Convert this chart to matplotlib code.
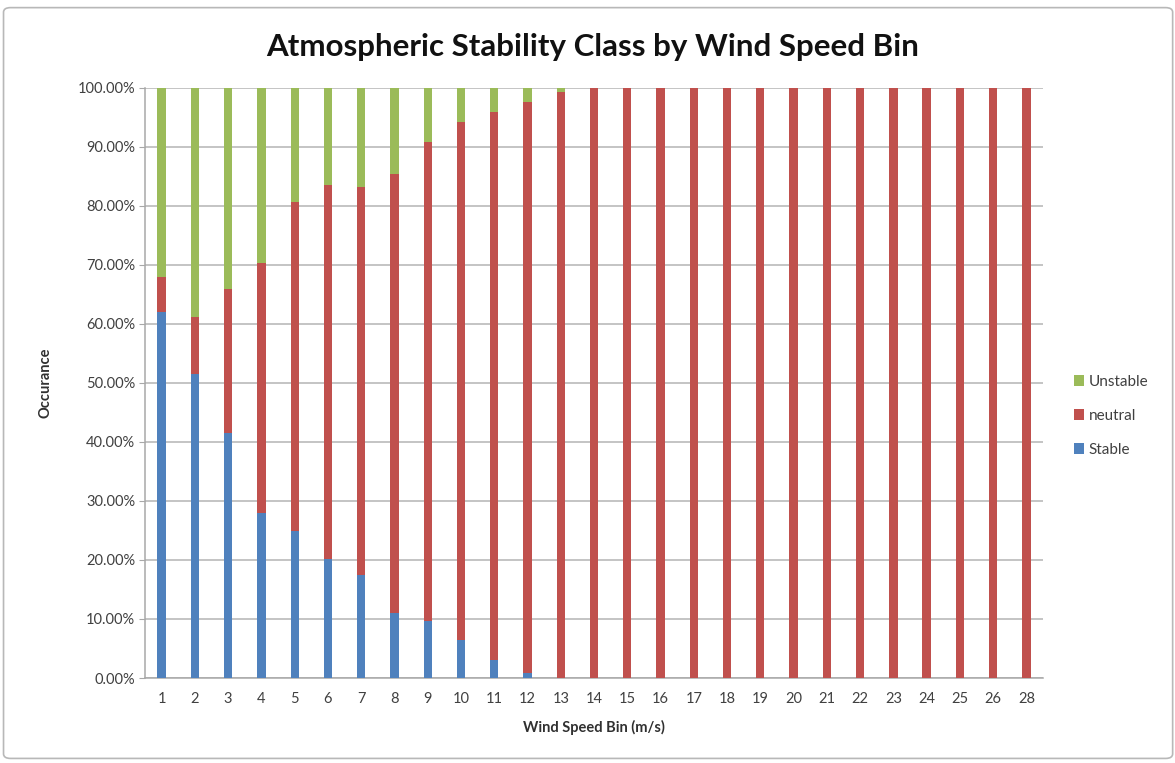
import matplotlib
matplotlib.use('Agg')
import matplotlib.pyplot as plt
from matplotlib.patches import FancyBboxPatch
from matplotlib.ticker import FuncFormatter
import numpy as np

# wind speed bins (no bin 27 in the data)
bins = [str(b) for b in list(range(1, 27)) + [28]]

# share of observations per stability class (%)
stable = [62.0, 51.6, 41.5, 27.9, 24.9, 20.1, 17.4, 11.0, 9.6, 6.4, 3.0, 0.9, 0.0,
          0, 0, 0, 0, 0, 0, 0, 0, 0, 0, 0, 0, 0, 0]
neutral = [6.0, 9.6, 24.5, 42.4, 55.7, 63.4, 65.8, 74.4, 81.2, 87.9, 92.9, 96.8, 99.3,
           100, 100, 100, 100, 100, 100, 100, 100, 100, 100, 100, 100, 100, 100]
unstable = [100 - s - n for s, n in zip(stable, neutral)]

c_stable = '#4F81BD'
c_neutral = '#C0504D'
c_unstable = '#9BBB59'

plt.rcParams['font.family'] = ['Lato', 'DejaVu Sans']

fig = plt.figure(figsize=(11.75, 7.63), dpi=100)
fig.patches.append(FancyBboxPatch((0.003, 0.006), 0.995, 0.984, boxstyle='round,pad=0,rounding_size=0.006',
                                  transform=fig.transFigure, fill=False, edgecolor='#b8b8b8', lw=1.2))

ax = fig.add_axes([0.1234, 0.1114, 0.7643, 0.7733])
x = np.arange(len(bins))
w = 0.25
ax.bar(x, stable, w, color=c_stable, label='Stable', zorder=3)
ax.bar(x, neutral, w, bottom=stable, color=c_neutral, label='neutral', zorder=3)
ax.bar(x, unstable, w, bottom=np.add(stable, neutral), color=c_unstable, label='Unstable', zorder=3)

ax.set_xlim(-0.5, len(bins) - 0.5)
ax.set_ylim(0, 100)
ax.set_yticks(np.arange(0, 101, 10))
ax.yaxis.set_major_formatter(FuncFormatter(lambda v, p: f'{v:.2f}%'))
ax.set_xticks(x)
ax.set_xticklabels(bins)
ax.grid(axis='y', color='#b4b4b4', lw=1.1, zorder=0)
for s in ['top', 'right']:
    ax.spines[s].set_visible(False)
for s in ['left', 'bottom']:
    ax.spines[s].set_color('#a8a8a8')
    ax.spines[s].set_linewidth(1.1)
ax.tick_params(axis='y', length=4, color='#a8a8a8', labelsize=10.5, labelcolor='#404040', pad=3)
ax.tick_params(axis='x', length=0, labelsize=10.5, labelcolor='#404040', pad=10)

ax.set_xlabel('Wind Speed Bin (m/s)', fontsize=10.5, fontweight='bold', color='#303030', labelpad=10)
ax.set_ylabel('Occurance', fontsize=10.5, fontweight='bold', color='#303030', labelpad=18)
fig.text(0.504, 0.939, 'Atmospheric Stability Class by Wind Speed Bin', ha='center', va='center',
         fontsize=22.5, fontweight='bold', color='#111111')

handles, labels = ax.get_legend_handles_labels()
leg = fig.legend(handles[::-1], labels[::-1], loc='center left', bbox_to_anchor=(0.902, 0.455),
                 frameon=False, fontsize=11, handlelength=0.7, handleheight=0.7,
                 handletextpad=0.3, labelspacing=1.3, labelcolor='#404040')

fig.savefig('out.png', dpi=100)
